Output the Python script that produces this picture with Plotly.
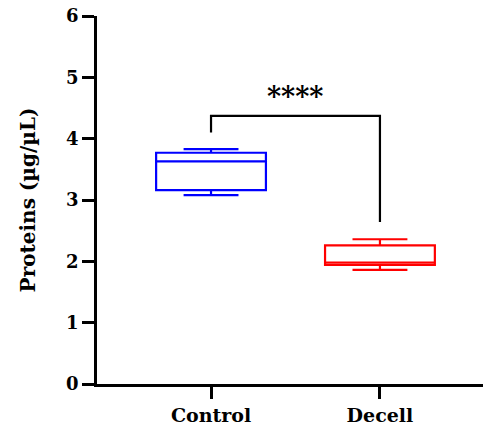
import plotly.graph_objects as go

categories = ["Control", "Decell"]
lower_whisker = [3.08, 1.86]
q1 = [3.16, 1.94]
median = [3.63, 1.98]
q3 = [3.77, 2.26]
upper_whisker = [3.83, 2.36]
colors = ["#0000FF", "#FF0000"]

y_ticks = [0, 1, 2, 3, 4, 5, 6]
bracket_top = 4.37
bracket_legs = [4.10, 2.64]
sig_label = "****"

FONT = "DejaVu Serif"

fig = go.Figure()
for i, c in enumerate(categories):
    fig.add_trace(go.Box(
        x=[c], q1=[q1[i]], median=[median[i]], q3=[q3[i]],
        lowerfence=[lower_whisker[i]], upperfence=[upper_whisker[i]],
        line=dict(color=colors[i], width=2.2),
        fillcolor="rgba(255,255,255,0)",
        whiskerwidth=0.5, width=0.65, boxpoints=False,
        showlegend=False, hoverinfo="skip",
    ))

# significance bracket
fig.add_trace(go.Scatter(
    x=[categories[0], categories[0], categories[1], categories[1]],
    y=[bracket_legs[0], bracket_top, bracket_top, bracket_legs[1]],
    mode="lines", line=dict(color="black", width=2.2),
    showlegend=False, hoverinfo="skip",
))
fig.add_annotation(x=0.5, y=bracket_top, xref="x", yref="y", text=f"<b>{sig_label}</b>",
                   showarrow=False, yanchor="bottom", yshift=2,
                   font=dict(family=FONT, size=27, color="black"))

fig.update_layout(
    width=483, height=427,
    margin=dict(l=97, r=0, t=16, b=43),
    paper_bgcolor="white", plot_bgcolor="white",
    font=dict(family=FONT, color="black"),
)
fig.update_xaxes(
    type="category", range=[-0.675, 1.61],
    showline=True, linecolor="black", linewidth=2.5,
    ticks="outside", ticklen=12, tickwidth=2.5, tickcolor="black",
    tickfont=dict(family=FONT, size=19, color="black"),
    showgrid=False, zeroline=False,
    tickprefix="<b>", ticksuffix="</b>",
)
fig.update_yaxes(
    range=[0, 6], tickvals=y_ticks,
    ticktext=[f"<b>{v}</b>" for v in y_ticks],
    showline=True, linecolor="black", linewidth=2.5,
    ticks="outside", ticklen=12, tickwidth=2.5, tickcolor="black",
    tickfont=dict(family=FONT, size=18, color="black"),
    showgrid=False, zeroline=False,
    title=dict(text="<b>Proteins (µg/µL)</b>", font=dict(family=FONT, size=20, color="black"), standoff=26),
)
fig.write_html("out.html")
